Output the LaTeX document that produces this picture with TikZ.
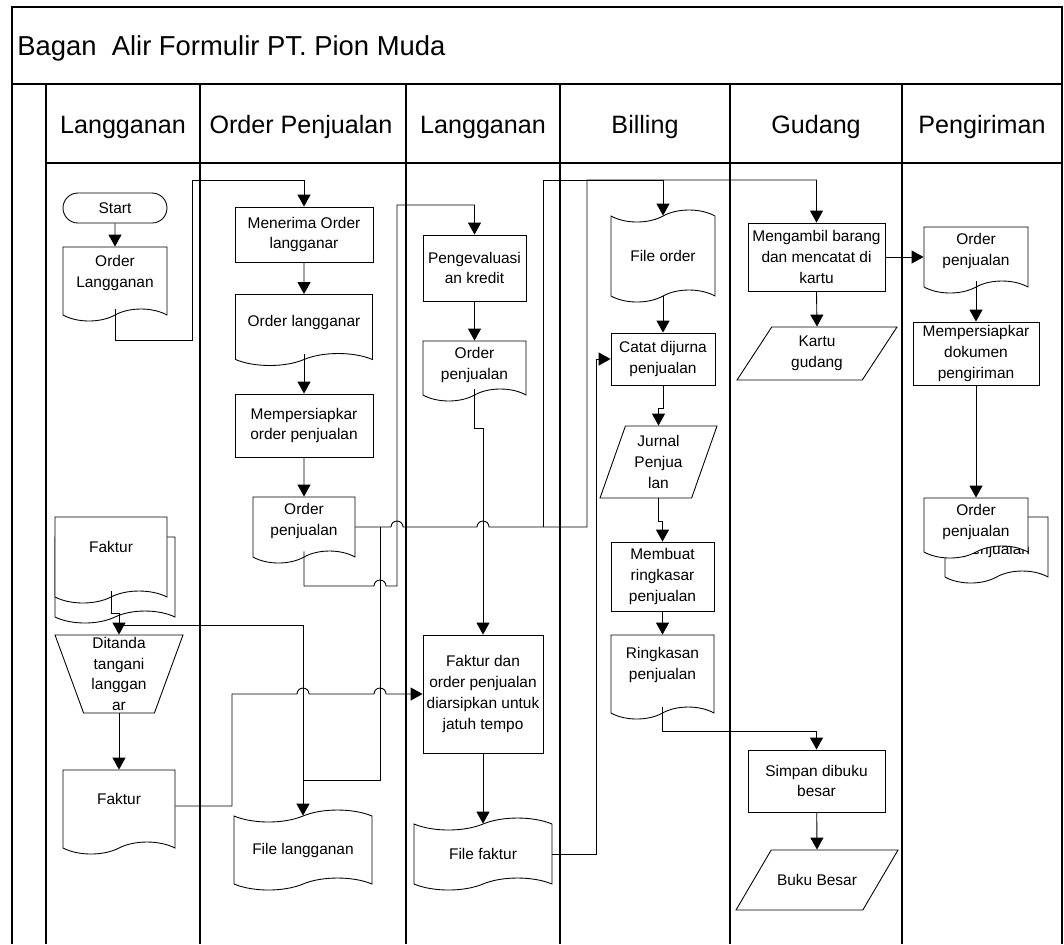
\documentclass[tikz,border=0pt]{standalone}
\usepackage{fontspec}
\setmainfont{Liberation Sans}
\usetikzlibrary{arrows.meta}
\usetikzlibrary{shapes.geometric}
\usetikzlibrary{shapes.symbols}
\usetikzlibrary{shapes.misc}
\newdimen\pxu \pxu=0.02cm
\newcommand{\boxfont}{\fontsize{8.8}{11.9}\selectfont}
\newcommand{\headfont}{\fontsize{14.3}{17}\selectfont}
\newcommand{\titlefont}{\fontsize{15.6}{18}\selectfont}
\tikzset{
      lane/.style={draw=black, line width=0.8pt},
      wire/.style={draw=black, line width=0.5pt},
      flow/.style={draw=black, line width=0.5pt, -{Triangle[length=6.8pt,width=7.4pt]}},
      boxtext/.style={align=center, font=\boxfont, inner sep=0pt},
      process/.style={draw=black, line width=0.5pt, rectangle, fill=white, boxtext},
      terminal/.style={draw=black, line width=0.5pt, rounded rectangle, fill=white, boxtext},
      document/.style={draw=black, line width=0.5pt, tape, tape bend top=none,
            tape bend height=12\pxu, fill=white, boxtext, text depth=5pt},
      punched/.style={draw=black, line width=0.5pt, tape, tape bend height=12\pxu,
            fill=white, boxtext},
      inout/.style={draw=black, line width=0.5pt, trapezium, trapezium left angle=69,
            trapezium right angle=111, trapezium stretches=true, inner sep=2pt},
      manual/.style={draw=black, line width=0.5pt, trapezium, trapezium angle=112,
            trapezium stretches=true, inner sep=2pt},
}

\begin{document}
\begin{tikzpicture}[x=0.02cm, y=-0.02cm]
        \useasboundingbox (0,0) rectangle (1064,944);

        % Draw the frame and the lanes
        \draw[lane] (12,944) -- (12,7) -- (1062,7) -- (1062,944);
        \draw[lane] (12,84) -- (1062,84);
        \draw[lane] (46,163) -- (1062,163);
        \foreach \x in {46,200,406,560,730,902}
            \draw[lane] (\x,84) -- (\x,944);

        \node[anchor=base west, inner sep=0pt, font=\titlefont] (title) at (17,55) {Bagan\ \ Alir Formulir PT. Pion Muda};
        \node[anchor=base, font=\headfont] (h1) at (123,133) {Langganan};
        \node[anchor=base, font=\headfont] (h2) at (301,133) {Order Penjualan};
        \node[anchor=base, font=\headfont] (h3) at (483,133) {Langganan};
        \node[anchor=base, font=\headfont] (h4) at (645,133) {Billing};
        \node[anchor=base, font=\headfont] (h5) at (816,133) {Gudang};
        \node[anchor=base, font=\headfont] (h6) at (982,133) {Pengiriman};

        % Langganan
        \node[terminal, minimum width=104\pxu, minimum height=30\pxu] (start) at (115,208) {Start};
        \node[document, minimum width=104\pxu, minimum height=74\pxu, text depth=7.5pt] (ol) at (115,278) {Order\\Langganan};
        \node[document, minimum width=120\pxu, minimum height=86\pxu] (fkb) at (115,574) {};
        \node[document, minimum width=112\pxu, minimum height=86\pxu, text depth=7.9pt] (fk) at (111,554) {Faktur};
        \node[manual, minimum width=128\pxu, minimum height=78\pxu,
            label={[boxtext]center:Ditanda\\tangani\\langgan\\ar}] (dt) at (119,674) {};
        \node[document, minimum width=112\pxu, minimum height=84\pxu, text depth=7.9pt] (fk2) at (119,806) {Faktur};

        % Order Penjualan
        \node[process, minimum width=138\pxu, minimum height=55\pxu] (mo) at (304,234.5) {Menerima Order\\langganar};
        \node[document, minimum width=137\pxu, minimum height=71\pxu, text depth=4.1pt] (olg) at (304,324) {Order langganar};
        \node[process, minimum width=138\pxu, minimum height=63\pxu] (mp) at (304,425.5) {Mempersiapkar\\order penjualan};
        \node[document, minimum width=102\pxu, minimum height=66\pxu, text depth=5pt] (op) at (304,524) {Order\\penjualan};
        \node[punched, minimum width=138\pxu, minimum height=80\pxu] (fl) at (303,850) {File langganan};

        % Langganan (kredit)
        \node[process, minimum width=103\pxu, minimum height=66\pxu] (pk) at (474.5,268) {Pengevaluasi\\an kredit};
        \node[document, minimum width=103\pxu, minimum height=60\pxu, text depth=1.8pt] (op2) at (474.5,365) {Order\\penjualan};
        \node[process, minimum width=120\pxu, minimum height=118\pxu] (fo) at (483,694) {Faktur dan\\order penjualan\\diarsipkan untuk\\jatuh tempo};
        \node[punched, minimum width=138\pxu, minimum height=72\pxu] (ff) at (483,854) {File faktur};

        % Billing
        \node[punched, minimum width=104\pxu, minimum height=92\pxu] (fdo) at (663,256) {File order};
        \node[process, minimum width=104\pxu, minimum height=52\pxu] (cj) at (663,359) {Catat dijurna\\penjualan};
        \node[inout, minimum width=117\pxu, minimum height=72\pxu,
            label={[boxtext]center:Jurnal\\Penjua\\lan}] (jp) at (658.5,462) {};
        \node[process, minimum width=103\pxu, minimum height=69\pxu] (mr) at (662.5,576.5) {Membuat\\ringkasar\\penjualan};
        \node[document, minimum width=103\pxu, minimum height=84\pxu, text depth=9pt] (rp) at (662.5,671) {Ringkasan\\penjualan};

        % Gudang
        \node[process, minimum width=137\pxu, minimum height=68\pxu] (mb) at (816.5,257) {Mengambil barang\\dan mencatat di\\kartu};
        \node[inout, minimum width=160\pxu, minimum height=53\pxu,
            label={[boxtext]center:Kartu\\gudang}] (kg) at (817,353.5) {};
        \node[process, minimum width=137\pxu, minimum height=62\pxu] (sb) at (816.5,781) {Simpan dibuku\\besar};
        \node[inout, minimum width=162\pxu, minimum height=60\pxu,
            label={[boxtext]center:Buku Besar}] (bb) at (817,880) {};

        % Pengiriman
        \node[document, minimum width=104\pxu, minimum height=66\pxu, text depth=5.2pt] (op3) at (976,254) {Order\\penjualan};
        \node[process, minimum width=126\pxu, minimum height=63\pxu] (md) at (976,353.5) {Mempersiapkar\\dokumen\\pengiriman};
        \node[document, minimum width=103\pxu, minimum height=66\pxu, text depth=1.8pt, text height=13.7pt] (op4b) at (996.5,544) {penjualan};
        \node[document, minimum width=104\pxu, minimum height=60\pxu, text depth=1.8pt] (op4) at (976,522) {Order\\penjualan};

        % Junctions
        \coordinate (ja) at (543,527);
        \coordinate (jb) at (380,527);
        \coordinate (jc) at (119,625);

        % Draw the flows
        \draw[flow] (start) -- (ol);
        \draw[flow] (ol.south) |- (192,340) -- (192,180) -| (mo.north);
        \draw[flow] (mo) -- (olg);
        \draw[flow] (olg.south) -- (mp.north);
        \draw[flow] (mp) -- (op);
        \draw[flow] (op.east |- jb) -- (391,527) arc[start angle=180, end angle=0, radius=6\pxu]
            -- (477,527) arc[start angle=180, end angle=0, radius=6\pxu]
            -- (587,527) -- (587,180) -| (mb.north);
        \draw[flow] (ja) -- (543,180) -| (fdo.north);
        \draw[wire] (jb) |- (303,780);
        \draw[flow] (op.south) |- (374,586) arc[start angle=180, end angle=0, radius=6\pxu]
            -- (397,586) -- (397,205) -| (pk.north);
        \draw[flow] (fk.south) |- (119,613) -- (dt.north);
        \draw[flow] (jc) -| (fl.north);
        \draw[flow] (dt.south) -- (fk2.north);
        \draw[flow] (fk2.east) -| (232,694) -- (297,694) arc[start angle=180, end angle=0, radius=6\pxu]
            -- (374,694) arc[start angle=180, end angle=0, radius=6\pxu] -- (fo.west);

        \draw[flow] (pk) -- (op2);
        \draw[flow] (op2.south) -- (474.5,428) -| (fo.north);
        \draw[flow] (fo) -- (ff.north);
        \draw[flow] (ff.east) -| (596,359) -- (cj.west);

        \draw[flow] (fdo.south) -- (cj.north);
        \draw[flow] (cj.south) -- (663,408) -| (jp.north);
        \draw[flow] (jp.south) -- (658.5,521) -| (mr.north);
        \draw[flow] (mr) -- (rp.north);
        \draw[flow] (rp.south) -- (662.5,731) -| (sb.north);
        \draw[flow] (sb) -- (bb.north);

        \draw[flow] (mb.south) -- (kg.north);
        \draw[flow] (mb.east) -- (mb.east -| op3.west);
        \draw[flow] (op3.south) -- (md.north);
        \draw[flow] (md.south) -- (op4.north);

    \end{tikzpicture}
\end{document}
